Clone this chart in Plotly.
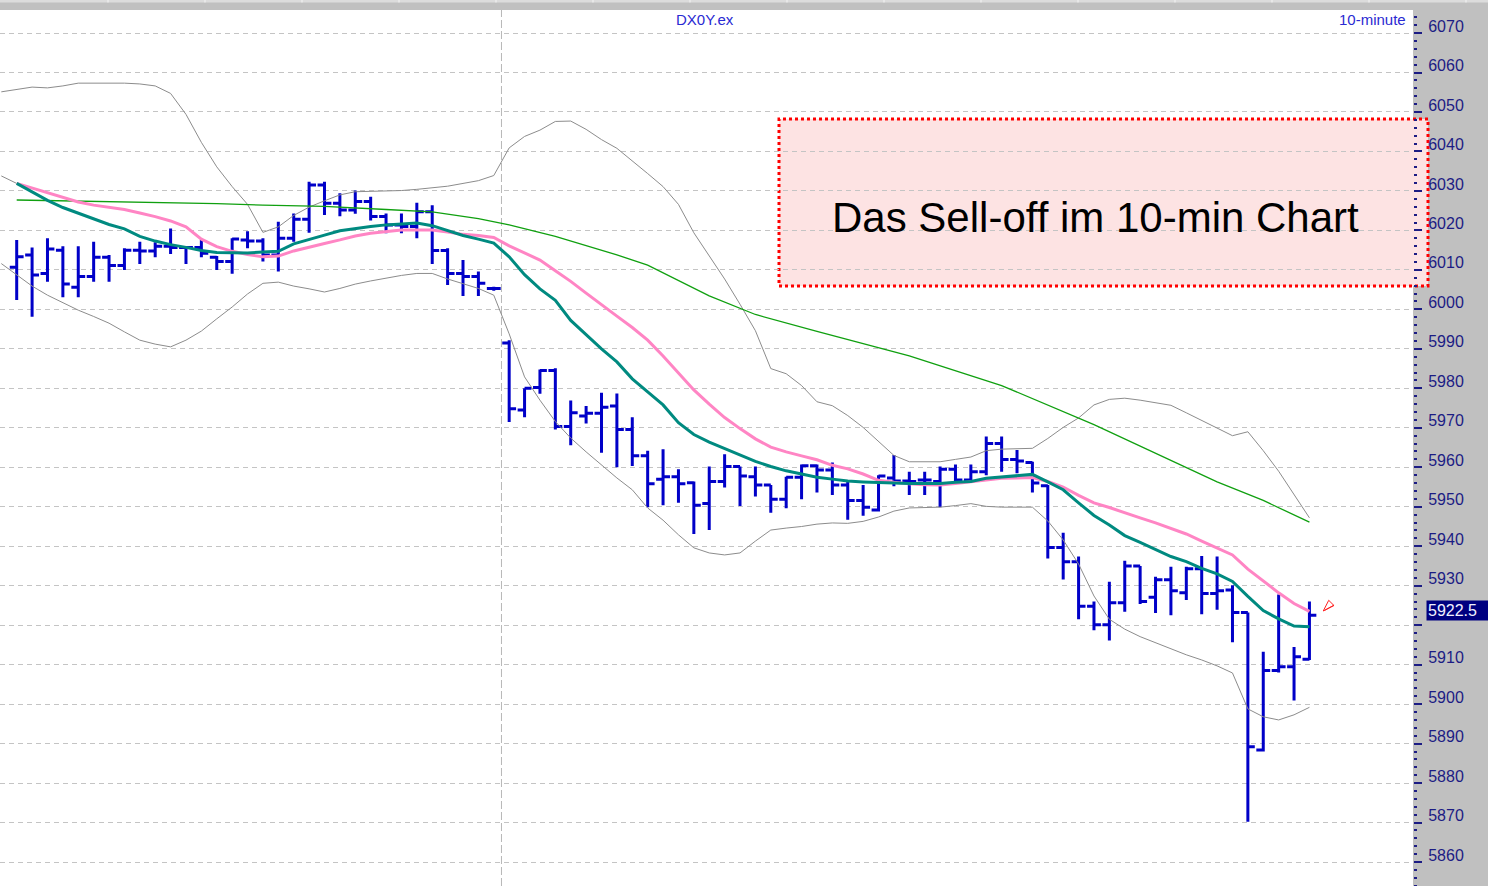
import plotly.graph_objects as go

W, H = 1488, 886

# ---------------- data ----------------
opens = [6010.7, 6013.8, 6009.1, 6015.0, 6005.6, 6008.3, 6013.2, 6011.1, 6015.0, 6014.8,
         6016.0, 6015.7, 6015.7, 6013.2, 6012.1, 6017.6, 6017.3, 6013.8, 6018.0, 6022.8,
         6031.5, 6026.9, 6025.2, 6027.3, 6023.5, 6021.4, 6021.0, 6024.7, 6014.9, 6009.1,
         6008.3, 6005.3, 5991.5, 5974.5, 5980.2, 5984.5, 5970.3, 5973.0, 5973.7, 5975.5,
         5969.6, 5962.9, 5957.0, 5957.6, 5956.1, 5950.8, 5956.4, 5960.2, 5957.6, 5955.5,
         5951.9, 5957.5, 5960.4, 5959.3, 5955.5, 5951.6, 5949.2, 5957.3, 5956.5, 5956.8,
         5956.4, 5959.5, 5956.8, 5958.9, 5966.0, 5962.0, 5961.2, 5955.3, 5939.7, 5936.1,
         5924.8, 5920.1, 5925.7, 5935.0, 5927.1, 5931.5, 5928.2, 5934.3, 5928.0, 5928.9,
         5923.2, 5888.4, 5908.5, 5909.5, 5911.4]
highs = [6017.6, 6015.7, 6018.0, 6016.0, 6016.0, 6017.1, 6013.8, 6015.5, 6017.1, 6017.0,
         6020.5, 6016.0, 6017.6, 6013.5, 6018.0, 6019.8, 6018.0, 6022.2, 6024.3, 6032.3,
         6032.3, 6029.4, 6030.1, 6028.5, 6024.3, 6024.3, 6027.0, 6026.4, 6015.5, 6012.5,
         6009.6, 6005.7, 5992.2, 5980.0, 5984.8, 5985.1, 5976.9, 5975.5, 5978.9, 5978.7,
         5972.7, 5964.2, 5964.6, 5959.5, 5956.4, 5960.2, 5963.3, 5960.2, 5960.2, 5955.5,
         5957.6, 5960.7, 5960.7, 5961.2, 5956.4, 5955.5, 5958.0, 5963.1, 5958.9, 5958.9,
         5960.2, 5960.7, 5960.7, 5967.8, 5967.8, 5964.4, 5961.4, 5955.5, 5943.4, 5937.4,
         5926.0, 5931.0, 5936.3, 5935.0, 5932.3, 5934.8, 5934.8, 5937.5, 5937.4, 5930.1,
         5923.2, 5913.3, 5927.8, 5914.5, 5926.0]
lows = [6002.4, 5998.1, 6007.0, 6003.1, 6003.1, 6007.0, 6007.0, 6010.0, 6011.5, 6013.2,
        6014.0, 6011.5, 6013.2, 6010.0, 6009.0, 6015.5, 6012.1, 6009.6, 6017.1, 6019.4,
        6023.9, 6023.6, 6024.2, 6022.5, 6019.3, 6019.3, 6018.0, 6011.5, 6006.2, 6003.4,
        6003.4, 6004.7, 5971.5, 5972.7, 5978.6, 5969.6, 5965.6, 5971.1, 5963.7, 5960.0,
        5960.3, 5949.9, 5950.4, 5951.0, 5943.1, 5944.1, 5954.9, 5950.2, 5952.6, 5948.5,
        5949.6, 5951.9, 5953.6, 5953.0, 5946.7, 5947.7, 5948.8, 5955.2, 5953.0, 5953.0,
        5949.9, 5956.1, 5956.1, 5958.0, 5958.9, 5958.5, 5953.6, 5936.9, 5931.6, 5921.5,
        5918.7, 5916.1, 5923.4, 5925.4, 5923.1, 5922.5, 5926.4, 5922.8, 5923.9, 5915.7,
        5870.2, 5888.0, 5908.0, 5900.9, 5911.2]
closes = [6013.3, 6008.7, 6015.3, 6006.4, 6008.3, 6013.2, 6011.1, 6015.0, 6014.8, 6016.0,
          6015.7, 6015.7, 6014.2, 6012.1, 6017.8, 6017.3, 6013.8, 6018.0, 6022.8, 6031.5,
          6026.9, 6025.2, 6027.3, 6023.5, 6021.4, 6021.0, 6024.7, 6014.9, 6009.1, 6008.3,
          6006.6, 6005.3, 5974.8, 5980.0, 5984.5, 5970.3, 5973.8, 5973.7, 5975.2, 5969.6,
          5962.9, 5955.8, 5957.6, 5955.8, 5950.4, 5956.4, 5960.2, 5957.8, 5955.5, 5951.9,
          5957.5, 5960.4, 5959.3, 5955.5, 5951.6, 5949.9, 5957.8, 5956.5, 5956.4, 5956.8,
          5959.5, 5956.8, 5958.9, 5966.0, 5962.0, 5961.6, 5956.0, 5939.7, 5936.1, 5924.8,
          5920.1, 5925.7, 5935.0, 5926.0, 5931.5, 5928.7, 5934.3, 5928.0, 5928.7, 5923.2,
          5889.2, 5908.5, 5909.5, 5912.0, 5922.5]
bars = list(range(len(opens)))

teal_ma = [6031.9, 6029.8, 6027.6, 6025.8, 6024.4, 6022.8, 6021.5, 6020.4, 6018.5, 6017.3,
           6016.4, 6015.7, 6014.9, 6014.4, 6014.3, 6014.3, 6014.5, 6014.7, 6016.6, 6017.8,
           6018.8, 6019.9, 6020.5, 6021.0, 6021.4, 6021.6, 6021.9, 6021.2, 6020.0, 6018.7,
           6017.8, 6016.8, 6013.3, 6008.8, 6005.2, 6002.3, 5997.2, 5993.5, 5990.0, 5986.7,
           5982.4, 5979.1, 5975.8, 5971.3, 5968.3, 5966.4, 5964.8, 5963.0, 5961.5, 5960.2,
           5959.1, 5958.3, 5957.5, 5957.0, 5956.5, 5956.3, 5956.1, 5956.0, 5955.9, 5955.9,
           5955.9, 5956.2, 5956.4, 5957.2, 5957.5, 5957.8, 5958.2, 5956.3, 5954.3, 5951.0,
           5947.8, 5945.4, 5942.7, 5941.0, 5939.1, 5937.4, 5936.1, 5934.4, 5933.0, 5931.1,
           5927.3, 5923.7, 5921.6, 5919.8, 5919.6]
pink_ma = [6031.9, 6030.7, 6029.6, 6028.3, 6027.2, 6026.4, 6025.9, 6025.3, 6024.4, 6023.5,
           6022.4, 6020.9, 6017.8, 6015.9, 6014.7, 6013.9, 6013.3, 6013.5, 6014.8, 6015.8,
           6016.7, 6017.6, 6018.6, 6019.3, 6019.7, 6020.1, 6020.1, 6020.1, 6019.6, 6019.0,
           6018.7, 6018.2, 6016.1, 6014.3, 6012.5, 6009.8, 6007.1, 6004.1, 6001.1, 5998.3,
           5995.4, 5992.2, 5988.2, 5983.9, 5979.6, 5976.0, 5972.6, 5969.8, 5967.2, 5965.1,
           5963.9, 5962.9, 5961.9, 5960.5, 5959.6, 5958.3, 5956.7, 5956.2, 5955.8, 5955.6,
           5955.5, 5955.9, 5956.3, 5956.8, 5957.2, 5957.3, 5957.4, 5956.4, 5955.0, 5952.9,
           5951.0, 5949.8, 5948.4, 5947.2, 5945.9, 5944.5, 5943.1, 5941.3, 5939.6, 5937.8,
           5934.2, 5931.1, 5928.2, 5925.5, 5923.5]

green_idx = [0, 5, 9, 13, 16, 20, 24, 27, 30, 32, 35, 39, 41, 45, 48, 52, 58, 64, 70, 74, 78, 81, 84]
green_ma = [6027.7, 6027.4, 6027.2, 6026.8, 6026.4, 6026.1, 6025.3, 6024.7, 6023.0, 6021.4,
            6018.5, 6013.8, 6011.2, 6003.4, 5998.7, 5994.4, 5988.2, 5980.7, 5970.8, 5963.6,
            5956.3, 5951.6, 5946.1]

band_idx = list(range(-1, 85))
band_upper = [6055.1, 6055.7, 6056.3, 6056.1, 6056.6, 6057.3, 6057.3, 6057.3, 6057.3, 6057.1,
              6056.6, 6054.7, 6049.4, 6042.3, 6036.1, 6031.1, 6026.6, 6019.5, 6020.9, 6023.8,
              6025.9, 6027.5, 6029.0, 6029.8, 6029.9, 6030.0, 6030.1, 6030.4, 6030.8, 6031.2,
              6031.9, 6032.6, 6033.9, 6040.9, 6043.8, 6045.4, 6047.6, 6047.7, 6045.6, 6043.0,
              6040.8, 6037.7, 6034.4, 6031.1, 6026.6, 6019.4, 6013.6, 6007.7, 6001.3, 5994.6,
              5985.0, 5983.7, 5980.7, 5976.6, 5975.6, 5973.1, 5970.1, 5966.5, 5963.0, 5961.4,
              5961.4, 5961.4, 5962.0, 5962.6, 5964.2, 5964.6, 5964.7, 5964.8, 5967.3, 5970.1,
              5972.5, 5975.8, 5977.2, 5977.5, 5977.0, 5976.4, 5975.7, 5973.8, 5971.8, 5969.9,
              5968.0, 5969.0, 5964.2, 5959.0, 5953.2, 5947.2]
band_lower = [6011.6, 6008.7, 6005.9, 6003.6, 6001.6, 5999.8, 5998.2, 5996.5, 5994.3, 5992.2,
              5991.2, 5990.5, 5992.2, 5994.5, 5997.6, 6000.6, 6003.9, 6006.6, 6006.9, 6005.9,
              6005.2, 6004.4, 6005.3, 6006.4, 6007.2, 6007.9, 6008.6, 6009.1, 6009.1, 6007.7,
              6006.4, 6005.3, 6003.6, 5993.8, 5982.9, 5977.0, 5971.6, 5967.4, 5963.9, 5960.6,
              5957.3, 5954.3, 5949.7, 5946.6, 5942.9, 5939.6, 5938.3, 5937.8, 5938.3, 5941.3,
              5944.1, 5944.6, 5945.0, 5945.6, 5945.9, 5945.8, 5946.3, 5947.4, 5948.9, 5949.7,
              5949.8, 5949.9, 5950.3, 5950.8, 5950.1, 5949.9, 5949.9, 5949.9, 5946.4, 5941.6,
              5935.5, 5927.4, 5921.5, 5919.0, 5917.1, 5915.5, 5914.0, 5912.5, 5911.2, 5909.7,
              5907.9, 5898.8, 5896.8, 5896.0, 5897.3, 5899.2]
band_mid_idx = [-1, 0]
band_mid = [6033.8, 6031.9]

y_ticks = list(range(5860, 6080, 10))
y_labels = ["" if v == 5920 else str(v) for v in y_ticks]
session_break = 31.5  # between bar 31 and bar 32 (new day)

# ---------------- figure ----------------
BLUE = "#0000c8"
NAVY = "#1c1c84"
FONT = "Liberation Sans, Arial, sans-serif"

fig = go.Figure()
fig.add_trace(go.Ohlc(
    x=bars, open=opens, high=highs, low=lows, close=closes,
    increasing=dict(line=dict(color=BLUE, width=3)),
    decreasing=dict(line=dict(color=BLUE, width=3)),
    tickwidth=0.45, hoverinfo="skip", showlegend=False))

grey_line = dict(color="#8c8c8c", width=1)
fig.add_trace(go.Scatter(x=band_idx, y=band_upper, mode="lines", line=grey_line, hoverinfo="skip", showlegend=False))
fig.add_trace(go.Scatter(x=band_idx, y=band_lower, mode="lines", line=grey_line, hoverinfo="skip", showlegend=False))
fig.add_trace(go.Scatter(x=band_mid_idx, y=band_mid, mode="lines", line=grey_line, hoverinfo="skip", showlegend=False))
fig.add_trace(go.Scatter(x=green_idx, y=green_ma, mode="lines", line=dict(color="#10a010", width=1.3),
                         hoverinfo="skip", showlegend=False))
fig.add_trace(go.Scatter(x=bars, y=pink_ma, mode="lines", line=dict(color="#ff85c4", width=3),
                         hoverinfo="skip", showlegend=False))
fig.add_trace(go.Scatter(x=bars, y=teal_ma, mode="lines", line=dict(color="#008a80", width=3),
                         hoverinfo="skip", showlegend=False))
# last-price arrow marker (tail + hollow head)
fig.add_trace(go.Scatter(x=[bars[-1] + 1.0, bars[-1] + 1.6], y=[closes[-1] + 1.3, closes[-1] + 2.6],
                         mode="lines", line=dict(color="#ff2020", width=1), hoverinfo="skip", showlegend=False))
fig.add_trace(go.Scatter(x=[bars[-1] + 0.9], y=[closes[-1] + 1.1], mode="markers",
                         marker=dict(symbol="arrow-open", angle=225, size=12, color="#ff2020",
                                     line=dict(color="#ff2020", width=1)),
                         hoverinfo="skip", showlegend=False))

plot_right = 1413 / W
plot_top = (H - 10) / H

shapes = [
    dict(type="rect", xref="paper", yref="paper", x0=0, x1=plot_right, y0=0, y1=plot_top,
         fillcolor="white", line=dict(width=0), layer="below"),
    dict(type="rect", xref="paper", yref="paper", x0=0, x1=1, y0=1 - 2.5 / H, y1=1,
         fillcolor="#dcdcdc", line=dict(width=0), layer="below"),
    dict(type="line", xref="x", yref="paper", x0=session_break, x1=session_break, y0=0, y1=plot_top,
         line=dict(color="#b8b8b8", width=1, dash="8px,3px"), layer="below"),
    dict(type="rect", xref="paper", yref="paper", x0=779 / W, x1=1428 / W, y0=1 - 286 / H, y1=1 - 119 / H,
         fillcolor="#fde3e3", line=dict(color="#ff0000", width=3, dash="dot"), layer="below"),
]
for sx in range(108, 1488, 97):
    shapes.append(dict(type="line", xref="paper", yref="paper", x0=sx / W, x1=sx / W, y0=1 - 2.5 / H, y1=1,
                       line=dict(color="#f4f4f4", width=1), layer="below"))

annotations = [
    dict(text="Das Sell-off im 10-min Chart", xref="paper", yref="paper", x=1095.5 / W, y=1 - 217 / H,
         xanchor="center", yanchor="middle", showarrow=False, font=dict(family=FONT, size=42, color="black")),
    dict(text="DX0Y.ex", xref="paper", yref="paper", x=705 / W, y=1 - 20 / H, xanchor="center",
         yanchor="middle", showarrow=False, font=dict(family=FONT, size=15, color="#2a2ad2")),
    dict(text="10-minute", xref="paper", yref="paper", x=1408 / W, y=1 - 20 / H, xanchor="right",
         yanchor="middle", showarrow=False, font=dict(family=FONT, size=15, color="#2a2ad2")),
    dict(text=f"{closes[-1]:.1f}", xref="paper", yref="y", x=1426 / W, y=closes[-1], yshift=5,
         xanchor="left", yanchor="middle", showarrow=False, bgcolor="#000080", borderpad=1,
         width=62, align="left", font=dict(family=FONT, size=16, color="#f0f0ff")),
]

fig.update_layout(
    width=W, height=H, margin=dict(l=0, r=0, t=0, b=0),
    paper_bgcolor="#c0c0c0", plot_bgcolor="rgba(0,0,0,0)",
    hovermode=False, showlegend=False,
    shapes=shapes, annotations=annotations,
    xaxis=dict(domain=[0, plot_right], range=[-1.085, 90.73], visible=False,
               rangeslider=dict(visible=False), fixedrange=True),
    yaxis=dict(domain=[0, plot_top], range=[5853.94, 6075.83], side="right",
               tickvals=y_ticks, ticktext=y_labels,
               showgrid=True, gridcolor="#c4c4c4", gridwidth=1, griddash="5px,4px",
               zeroline=False, showline=False,
               ticks="outside", ticklen=8, tickwidth=2, tickcolor=NAVY,
               tickfont=dict(family=FONT, size=16, color=NAVY),
               ticklabelshift=-7, ticklabelstandoff=3,
               minor=dict(dtick=2, ticks="outside", ticklen=3, tickwidth=2, tickcolor=NAVY, showgrid=False),
               fixedrange=True),
)

fig.write_html("out.html", config={"displayModeBar": False},
               post_script="document.body.style.margin='0';document.body.style.overflow='hidden';")
